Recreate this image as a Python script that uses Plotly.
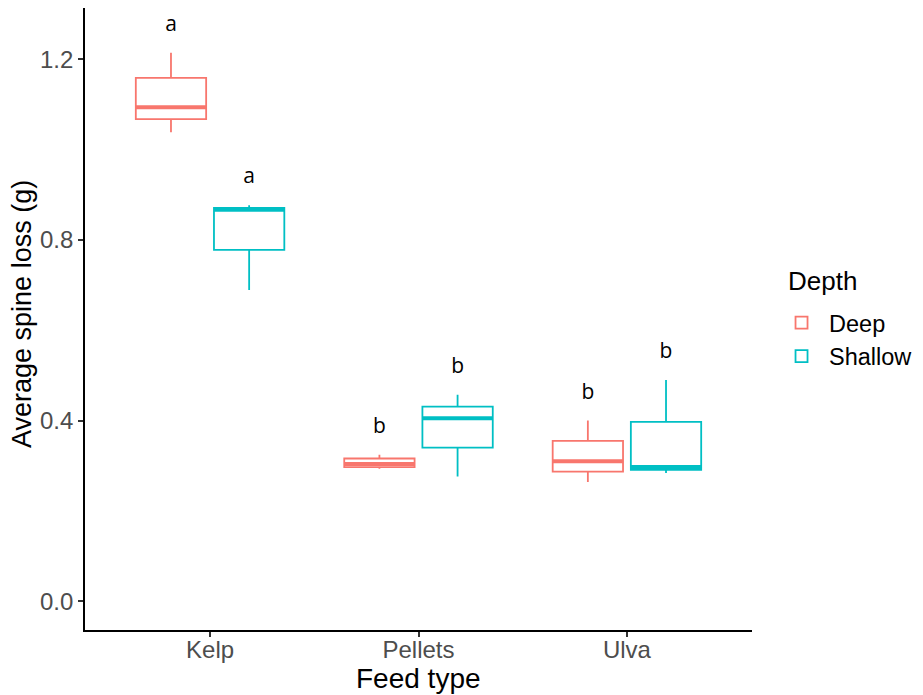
import plotly.graph_objects as go

# Summary statistics of average spine loss (g) per feed type and depth
feeds = ["Kelp", "Pellets", "Ulva"]
depths = ["Deep", "Shallow"]

lower = {"Deep": [1.039, 0.293, 0.264], "Shallow": [0.689, 0.276, 0.284]}
q1 = {"Deep": [1.068, 0.297, 0.287], "Shallow": [0.778, 0.340, 0.291]}
median = {"Deep": [1.094, 0.304, 0.310], "Shallow": [0.867, 0.405, 0.297]}
q3 = {"Deep": [1.159, 0.316, 0.355], "Shallow": [0.871, 0.431, 0.397]}
upper = {"Deep": [1.215, 0.324, 0.400], "Shallow": [0.877, 0.457, 0.490]}

# Compact letter display from post-hoc comparisons
letters = {"Deep": ["a", "b", "b"], "Shallow": ["a", "b", "b"]}

colors = {"Deep": "#F8766D", "Shallow": "#00BFC4"}
dodge = {"Deep": -0.1875, "Shallow": 0.1875}
box_width = 0.3375
letter_gap = 0.060

fig = go.Figure()

for d in depths:
    xs = [i + 1 + dodge[d] for i in range(len(feeds))]
    fig.add_trace(go.Box(
        name=d, legendgroup=d, showlegend=True,
        x=xs, q1=q1[d], median=median[d], q3=q3[d],
        lowerfence=lower[d], upperfence=upper[d],
        width=box_width, whiskerwidth=0, boxpoints=False,
        line=dict(color=colors[d], width=1.8), fillcolor="white",
        hoverinfo="skip",
    ))

# Heavier median bars
for d in depths:
    mx, my = [], []
    for i, m in enumerate(median[d]):
        c = i + 1 + dodge[d]
        mx += [c - box_width / 2, c + box_width / 2, None]
        my += [m, m, None]
    fig.add_trace(go.Scatter(
        x=mx, y=my, mode="lines", showlegend=False, legendgroup=d,
        line=dict(color=colors[d], width=4), hoverinfo="skip",
    ))

# Significance letters above each box
for d in depths:
    fig.add_trace(go.Scatter(
        x=[i + 1 + dodge[d] for i in range(len(feeds))],
        y=[u + letter_gap for u in upper[d]],
        text=letters[d], mode="text", showlegend=False,
        textfont=dict(family="Open Sans", size=21, color="black"),
        hoverinfo="skip",
    ))

axis_font = "Liberation Sans, Arial, sans-serif"

fig.update_layout(
    width=923, height=695,
    margin=dict(l=85, r=171, t=8, b=65, autoexpand=False),
    plot_bgcolor="white", paper_bgcolor="white",
    font=dict(family=axis_font, color="black"),
    showlegend=True,
    legend=dict(
        font=dict(size=23.5, color="black"),
        xref="container", yref="container",
        x=0.8386, xanchor="left", y=0.511, yanchor="middle",
        itemwidth=45,
        bgcolor="rgba(0,0,0,0)", tracegroupgap=0,
    ),
    annotations=[
        dict(text="Depth", xref="paper", yref="paper",
             x=1.051, y=0.561, xanchor="left", yanchor="middle",
             showarrow=False, font=dict(size=26, color="black")),
        dict(text="Feed type", xref="paper", yref="paper",
             x=0.5, y=-0.0785, xanchor="center", yanchor="middle",
             showarrow=False, font=dict(size=28, color="black")),
        dict(text="Average spine loss (g)", xref="paper", yref="paper",
             x=-0.0945, y=0.508, xanchor="center", yanchor="middle",
             textangle=-90, showarrow=False, font=dict(size=27, color="black")),
    ],
    xaxis=dict(
        range=[0.4, 3.6], tickmode="array",
        tickvals=[1, 2, 3], ticktext=feeds,
        showgrid=False, zeroline=False, automargin=False,
        showline=True, linecolor="black", linewidth=1.8,
        ticks="outside", ticklen=5, tickwidth=1.5, tickcolor="#333333",
        tickfont=dict(size=24, color="#4D4D4D"), ticklabelstandoff=-8,
    ),
    yaxis=dict(
        range=[-0.064, 1.314], tickmode="array",
        tickvals=[0.0, 0.4, 0.8, 1.2], ticktext=["0.0", "0.4", "0.8", "1.2"],
        showgrid=False, zeroline=False, automargin=False,
        showline=True, linecolor="black", linewidth=1.8,
        ticks="outside", ticklen=5, tickwidth=1.5, tickcolor="#333333",
        tickfont=dict(size=24, color="#4D4D4D"),
    ),
)

fig.write_html("out.html")
